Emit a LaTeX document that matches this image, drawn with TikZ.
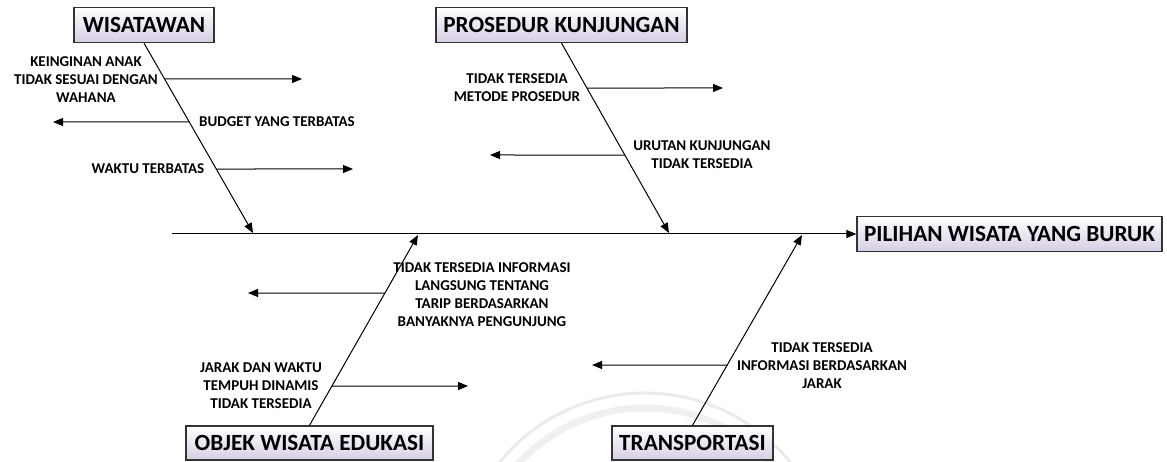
\documentclass[tikz,border=0pt]{standalone}
\usepackage{fontspec}
\setmainfont{Carlito}[BoldFont={Carlito Bold}]
\usetikzlibrary{arrows.meta,calc,shadings}
\definecolor{boxlav}{RGB}{214,206,228}
\tikzset{
  x=1pt, y=-1pt,
  bigbox/.style={draw=black!80, line width=1.3pt, top color=white, bottom color=boxlav,
    font=\fontsize{23.2}{26}\selectfont\bfseries, inner sep=0pt, minimum height=35pt, text height=15pt, text depth=0pt},
  lbl/.style={font=\fontsize{15}{18}\selectfont\bfseries, align=center, inner sep=0pt},
  bone/.style={line width=1pt, -{Triangle[length=10pt,width=8pt]}},
  twig/.style={line width=1pt, -{Triangle[length=10pt,width=8pt]}},
  wmark/.style={line cap=butt},
}
\begin{document}
\begin{tikzpicture}
\useasboundingbox (0,0) rectangle (1167,462);
% faint watermark arcs
\coordinate (wc0) at (645,580);
\draw[wmark, black!8, line width=3pt] (wc0) ++(214:187) arc[start angle=214, end angle=326, radius=187];
\draw[wmark, black!6, line width=7pt] (wc0) ++(218:172) arc[start angle=218, end angle=322, radius=172];

% boxes
\node[bigbox, minimum width=140pt] (wis) at (144,25) {WISATAWAN};
\node[bigbox, minimum width=251pt] (pros) at (561.5,25) {PROSEDUR KUNJUNGAN};
\node[bigbox, minimum width=247pt, minimum height=34pt] (obj) at (309.5,443) {OBJEK WISATA EDUKASI};
\node[bigbox, minimum width=161pt, minimum height=34pt] (trans) at (692.5,443) {TRANSPORTASI};
\node[bigbox, minimum width=305pt] (pil) at (1009.5,234) {PILIHAN WISATA YANG BURUK};

% spine
\coordinate (s0) at (172,234);
\draw[bone] (s0) -- (pil.west);

% bone end points on spine
\coordinate (w1) at (253,233);
\coordinate (p1) at (669,233);
\coordinate (o1) at (418,235);
\coordinate (t1) at (802,235);

\draw[bone] (wis.south) -- (w1);
\draw[bone] (pros.south) -- (p1);
\draw[bone] (obj.north) -- (o1);
\draw[bone] (trans.north) -- (t1);

% branch start points on bones
\coordinate (wa) at (intersection of wis.south--w1 and 0,79--10,79);
\coordinate (wb) at (intersection of wis.south--w1 and 0,122--10,122);
\coordinate (wc) at (intersection of wis.south--w1 and 0,169--10,169);
\coordinate (pa) at (intersection of pros.south--p1 and 0,88--10,88);
\coordinate (pb) at (intersection of pros.south--p1 and 0,155--10,155);
\coordinate (oa) at (intersection of obj.north--o1 and 0,293--10,293);
\coordinate (ob) at (intersection of obj.north--o1 and 0,386--10,386);
\coordinate (ta) at (intersection of trans.north--t1 and 0,365--10,365);

% branch ends
\coordinate (wa2) at (302,79);
\coordinate (wb2) at (53,122);
\coordinate (wc2) at (353,169);
\coordinate (pa2) at (723,88);
\coordinate (pb2) at (490,155);
\coordinate (oa2) at (248,293);
\coordinate (ob2) at (468,386);
\coordinate (ta2) at (592,365);

\draw[twig] (wa) -- (wa2);
\draw[twig] (wb) -- (wb2);
\draw[twig] (wc) -- (wc2);
\draw[twig] (pa) -- (pa2);
\draw[twig] (pb) -- (pb2);
\draw[twig] (oa) -- (oa2);
\draw[twig] (ob) -- (ob2);
\draw[twig] (ta) -- (ta2);

% labels
\node[lbl] (l1) at (86,80) {KEINGINAN ANAK\\TIDAK SESUAI DENGAN\\WAHANA};
\node[lbl] (l2) at (277,122) {BUDGET YANG TERBATAS};
\node[lbl] (l3) at (148,169) {WAKTU TERBATAS};
\node[lbl] (l4) at (517,88) {TIDAK TERSEDIA\\METODE PROSEDUR};
\node[lbl] (l5) at (702,155) {URUTAN KUNJUNGAN\\TIDAK TERSEDIA};
\node[lbl] (l6) at (482,295) {TIDAK TERSEDIA INFORMASI\\LANGSUNG TENTANG\\TARIP BERDASARKAN\\BANYAKNYA PENGUNJUNG};
\node[lbl] (l7) at (261,386) {JARAK DAN WAKTU\\TEMPUH DINAMIS\\TIDAK TERSEDIA};
\node[lbl] (l8) at (822,366) {TIDAK TERSEDIA\\INFORMASI BERDASARKAN\\JARAK};
\end{tikzpicture}
\end{document}
